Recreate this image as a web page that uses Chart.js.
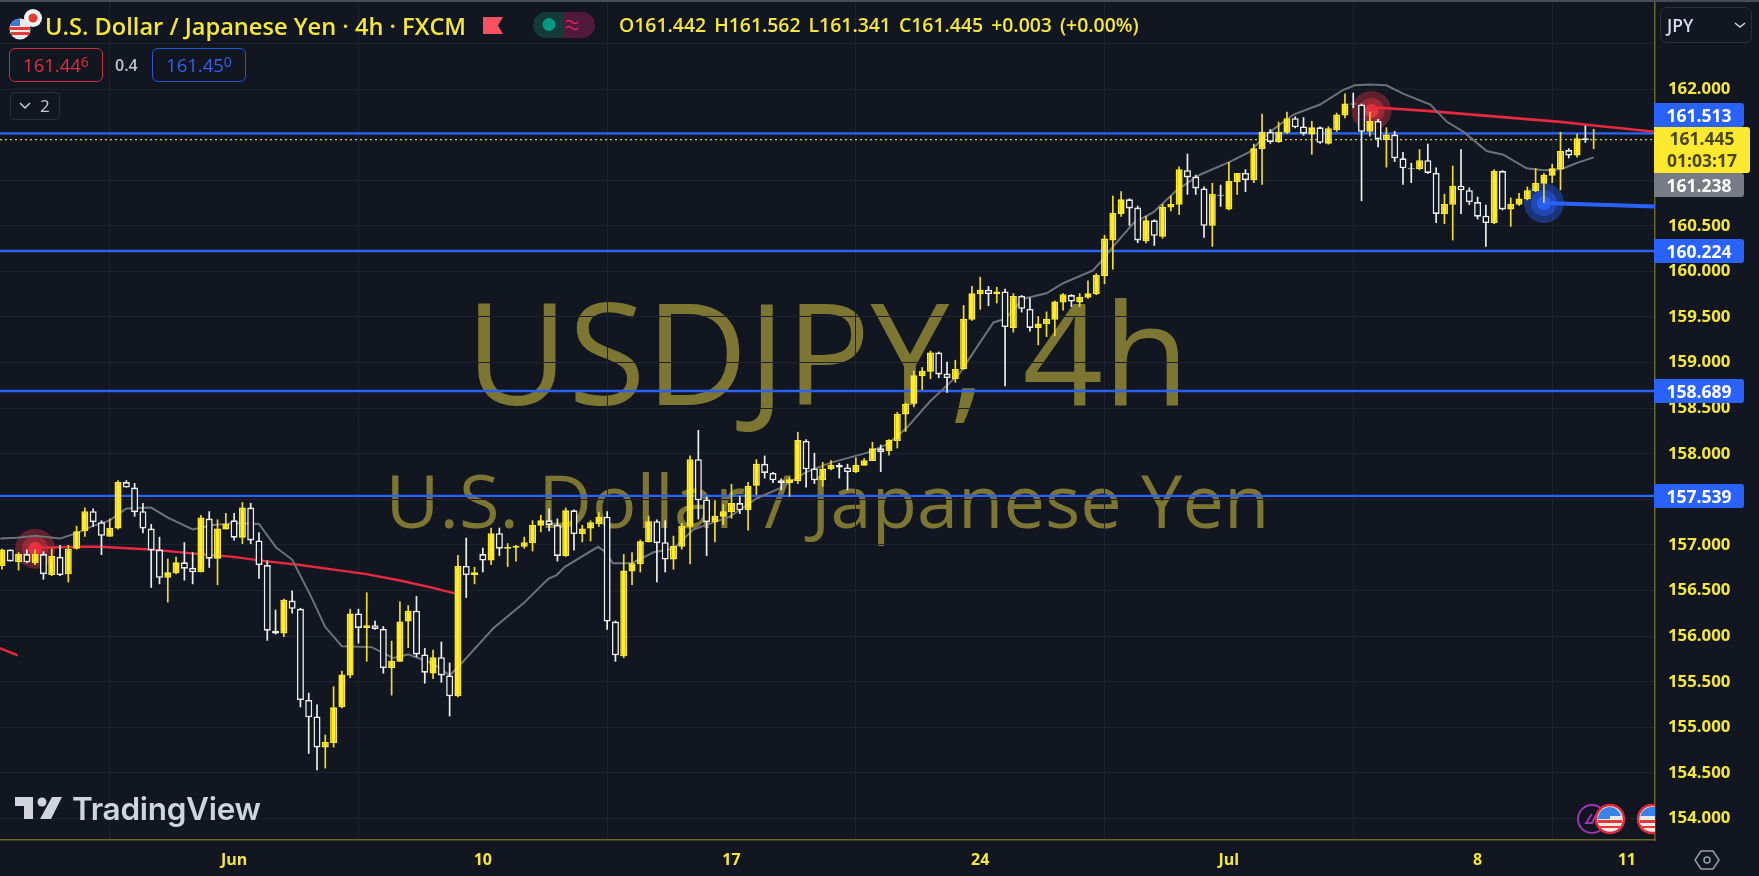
<!DOCTYPE html>
<html>
<head>
<meta charset="utf-8">
<title>USDJPY 4h</title>
<script src="https://cdn.jsdelivr.net/npm/chart.js@4/dist/chart.umd.min.js"></script>
<style>
html, body { margin: 0; padding: 0; width: 1759px; height: 876px; overflow: hidden; background: #121621; }
body { font-family: "Open Sans", sans-serif; position: relative; }
#topline { position: absolute; left: 0; top: 0; width: 1759px; height: 2px; background: #4a4d57; z-index: 3; }
.wm { position: absolute; left: 0; width: 1655px; text-align: center; color: #7d7632; white-space: nowrap; font-family: "Open Sans", sans-serif; font-weight: 500; z-index: 0; }
#wm1 { top: 255px; font-size: 141px; line-height: 190px; }
#wm2 { top: 450px; font-size: 74px; line-height: 100px; }
#c { position: absolute; left: 0; top: 0; z-index: 1; }
.ov { position: absolute; z-index: 2; white-space: nowrap; }
.title { left: 45px; top: 11px; font-size: 23.6px; font-weight: 600; color: #f6e73c; line-height: 30px; }
.ohlc { left: 619px; top: 12px; font-size: 19.4px; font-weight: 600; color: #f6e73c; line-height: 26px; word-spacing: 3px; }
.box { top: 48px; width: 92px; height: 32px; border: 1.5px solid; border-radius: 6px; text-align: center; line-height: 32px; font-size: 18.5px; }
.box sup { font-size: 14px; line-height: 0; vertical-align: 5px; }
.tag { left: 1654px; height: 24px; line-height: 24px; width: 90px; text-align: center; color: #fff; font-size: 17.5px; font-weight: 700; border-radius: 0 3px 3px 0; }
</style>
</head>
<body>
<div id="topline"></div>
<div class="wm" id="wm1">USDJPY, 4h</div>
<div class="wm" id="wm2">U.S. Dollar / Japanese Yen</div>
<canvas id="c" width="1759" height="876"></canvas>

<!-- header -->
<svg class="ov" style="left:8px;top:8px" width="34" height="36" viewBox="0 0 34 36">
  <circle cx="25" cy="10" r="9" fill="#f2f2f2"/><circle cx="25" cy="10" r="4.5" fill="#e53935"/>
  <circle cx="12" cy="21" r="10.5" fill="#e8e8e8"/>
  <path d="M2 19h20v3H2zM3 24h18v3H3z" fill="#e53935"/>
  <path d="M2.5 17a10.5 10.5 0 0 1 9.5-6.5V18H2z" fill="#3b78d8"/>
</svg>
<div class="ov title">U.S. Dollar / Japanese Yen · 4h · FXCM</div>
<svg class="ov" style="left:483px;top:17px" width="21" height="17"><path d="M0 0H20L15 8.500L20 17H0Z" fill="#f7525f"/></svg>
<svg class="ov" style="left:533px;top:12px" width="62" height="26">
  <path d="M13 0H31V26H13A13 13 0 0 1 13 0Z" fill="#143a39"/>
  <path d="M31 0H49A13 13 0 0 1 49 26H31Z" fill="#4f1a3b"/>
  <circle cx="16" cy="12.500" r="6.500" fill="#089981"/>
  <path d="M33 10q3-3 6 0t6 0M33 16q3-3 6 0t6 0" fill="none" stroke="#e91e63" stroke-width="1.600"/>
</svg>
<div class="ov ohlc">O161.442 H161.562 L161.341 C161.445 +0.003 (+0.00%)</div>
<div class="ov box" style="left:9px;color:#e0303f;border-color:#c62f3e">161.44<sup>6</sup></div>
<div class="ov" style="left:115px;top:50px;font-size:16px;font-weight:600;color:#c4c6ce;line-height:30px">0.4</div>
<div class="ov box" style="left:152px;color:#2d63f0;border-color:#2456d6">161.45<sup>0</sup></div>
<svg class="ov" style="left:10px;top:92px" width="50" height="29">
  <rect x="0.500" y="0.500" width="49" height="27" rx="4" fill="#121621" stroke="#2a2e39"/>
  <path d="M10 11l5 5 5-5" fill="none" stroke="#c8cad2" stroke-width="1.500"/>
  <text x="30" y="20" font-family="Open Sans" font-size="17" fill="#c8cad2">2</text>
</svg>

<!-- JPY button -->
<div class="ov" style="left:1660px;top:7px;width:90px;height:34px;border:1.5px solid #2c303b;border-radius:7px"></div>
<div class="ov" style="left:1667px;top:11px;font-size:17.5px;font-weight:600;color:#d5dcf0;line-height:28px">JPY</div>
<svg class="ov" style="left:1734px;top:22px" width="12" height="8"><path d="M1 1l5 4 5-4" fill="none" stroke="#d1d4dc" stroke-width="1.600"/></svg>

<!-- logo -->
<svg class="ov" style="left:15px;top:796px" width="48" height="24">
  <path d="M0 1H18V23H9V10H0Z" fill="#d1d4dc"/>
  <circle cx="27" cy="6" r="4.500" fill="#d1d4dc"/>
  <path d="M37 1H47L36 23H25Z" fill="#d1d4dc"/>
</svg>
<div class="ov" style="left:72px;top:788px;font-family:Inter,sans-serif;font-size:31.5px;font-weight:600;color:#d1d4dc;line-height:42px;letter-spacing:-0.3px">TradingView</div>

<!-- event icons -->
<svg class="ov" style="left:1570px;top:798px" width="85" height="42">
  <circle cx="22" cy="21" r="14" fill="#121621" stroke="#9c36b5" stroke-width="2"/>
  <path d="M22 16l-6 9h6l4-8" fill="none" stroke="#9c36b5" stroke-width="2"/>
  <g id="flagA"><circle cx="40" cy="21" r="14" fill="#e9e9e9" stroke="#e0293c" stroke-width="2.500"/>
    <path d="M28 22h24v3H28zM29 28h22v2H29z" fill="#e53935"/>
    <path d="M28 21a12 12 0 0 1 12-12v12z" fill="#3b82e6"/><path d="M40 9a12 12 0 0 1 11 9H40z" fill="#3b82e6"/></g>
  <circle cx="82" cy="21" r="14" fill="#e9e9e9" stroke="#e0293c" stroke-width="2.500"/>
  <path d="M70 22h16v3H70zM71 28h14v2H71z" fill="#e53935"/>
  <path d="M70 21a12 12 0 0 1 12-12h3v9H70z" fill="#3b82e6"/>
</svg>
<!-- settings hexagon -->
<svg class="ov" style="left:1694px;top:849px" width="26" height="22">
  <path d="M7 2H19L25 11L19 20H7L1 11Z" fill="none" stroke="#9a9da6" stroke-width="1.500"/>
  <circle cx="13" cy="11" r="3" fill="none" stroke="#9a9da6" stroke-width="1.500"/>
</svg>

<script>
// candles, oldest first
const opens = [156.77,156.95,156.81,156.90,156.80,156.90,156.67,156.87,156.68,156.96,
157.15,157.37,157.25,157.09,157.18,157.69,157.63,157.37,157.18,156.95,
156.64,156.69,156.81,156.75,156.70,157.29,156.85,157.17,157.27,157.08,
157.41,157.05,156.78,156.06,156.03,156.39,156.30,155.30,155.12,154.78,
154.83,155.22,155.57,156.25,156.09,156.12,156.08,155.65,155.72,156.16,
156.28,155.80,155.59,155.77,155.57,155.34,156.77,156.67,156.90,156.83,
157.13,156.96,156.97,156.98,157.02,157.21,157.27,157.22,156.88,157.38,
157.12,157.18,157.23,157.31,156.16,155.78,156.71,156.79,157.03,157.26,
157.03,156.84,156.98,157.20,157.94,157.50,157.25,157.31,157.36,157.46,
157.38,157.65,157.89,157.79,157.71,157.68,157.70,158.14,157.84,157.71,
157.83,157.88,157.85,157.80,157.87,157.92,158.06,158.03,158.14,158.43,
158.55,158.85,158.90,159.11,158.88,158.82,158.93,159.47,159.75,159.80,
159.75,159.78,159.38,159.73,159.59,159.38,159.42,159.47,159.66,159.74,
159.66,159.71,159.75,159.95,160.34,160.63,160.79,160.70,160.33,160.56,
160.38,160.70,160.73,161.11,161.04,160.91,160.50,160.84,160.68,160.98,
161.08,161.00,161.34,161.53,161.42,161.52,161.68,161.59,161.50,161.58,
161.40,161.55,161.71,161.84,161.83,161.53,161.65,161.44,161.50,161.24,
161.13,161.12,161.22,161.08,160.63,160.73,160.94,160.89,160.76,160.61,
160.53,161.10,160.68,160.73,160.79,160.88,160.96,161.05,161.12,161.33,
161.27,161.46,161.442];

const highs = [156.96,156.95,156.92,156.95,156.95,156.93,156.96,157.00,157.00,157.21,
157.41,157.40,157.27,157.29,157.71,157.71,157.68,157.46,157.23,157.09,
156.85,156.87,157.03,156.92,157.33,157.37,157.28,157.35,157.35,157.47,
157.46,157.14,156.83,156.29,156.41,156.50,156.31,155.38,155.25,154.92,
155.45,155.62,156.30,156.30,156.48,156.17,156.11,155.95,156.38,156.34,
156.44,155.87,155.85,155.94,155.71,156.89,157.08,156.76,156.97,157.19,
157.19,157.02,157.00,157.09,157.27,157.33,157.40,157.29,157.41,157.39,
157.22,157.27,157.36,157.37,156.17,156.90,156.92,157.06,157.32,157.28,
157.27,157.10,157.24,157.98,158.26,157.53,157.49,157.45,157.67,157.54,
157.69,157.94,157.98,157.80,157.73,157.75,158.24,158.16,158.01,157.91,
157.93,157.90,157.89,157.96,157.95,158.13,158.10,158.16,158.46,158.56,
158.91,158.95,159.13,159.12,159.01,159.03,159.63,159.84,159.94,159.84,
159.83,159.81,159.76,159.74,159.71,159.51,159.56,159.68,159.76,159.75,
159.76,159.90,159.98,160.40,160.83,160.88,160.80,160.72,160.61,160.57,
160.74,160.83,161.15,161.29,161.06,160.93,160.97,160.95,161.20,161.08,
161.12,161.40,161.73,161.56,161.64,161.75,161.70,161.69,161.65,161.59,
161.59,161.74,161.95,161.96,161.84,161.75,161.67,161.58,161.54,161.31,
161.19,161.34,161.40,161.14,160.85,161.16,161.34,160.92,160.82,160.73,
161.12,161.11,160.81,160.86,160.93,161.13,161.08,161.18,161.53,161.35,
161.51,161.60,161.562];

const lows = [156.73,156.82,156.72,156.80,156.78,156.62,156.66,156.66,156.59,156.95,
157.09,157.20,156.89,157.09,157.17,157.63,157.31,157.13,156.53,156.57,
156.37,156.68,156.61,156.57,156.70,156.75,156.56,157.17,157.05,157.01,
157.01,156.63,155.95,156.02,155.99,156.25,155.22,154.71,154.53,154.55,
154.78,155.21,155.54,155.92,155.72,156.07,155.59,155.35,155.72,155.87,
155.77,155.48,155.53,155.49,155.12,155.33,156.42,156.57,156.70,156.78,
156.88,156.76,156.82,156.96,156.93,157.14,157.15,156.82,156.87,156.94,
157.03,157.04,157.20,156.07,155.72,155.76,156.56,156.70,157.03,156.59,
156.70,156.73,156.95,156.79,157.28,156.88,157.03,157.22,157.29,157.34,
157.16,157.55,157.73,157.68,157.60,157.53,157.67,157.63,157.67,157.64,
157.82,157.73,157.60,157.79,157.87,157.92,157.80,157.98,158.06,158.24,
158.51,158.70,158.82,158.83,158.67,158.78,158.92,159.46,159.58,159.62,
159.65,158.74,159.33,159.55,159.34,159.19,159.28,159.29,159.57,159.61,
159.61,159.70,159.74,159.86,160.02,160.60,160.50,160.31,160.31,160.28,
160.36,160.66,160.62,160.84,160.84,160.37,160.27,160.71,160.67,160.84,
160.87,160.97,160.95,161.40,161.41,161.51,161.57,161.49,161.28,161.40,
161.39,161.53,161.68,161.79,160.77,161.48,161.36,161.14,161.20,160.95,
160.97,161.11,161.07,160.53,160.52,160.34,160.63,160.73,160.57,160.27,
160.52,160.67,160.49,160.72,160.78,160.87,160.75,160.97,160.89,161.24,
161.25,161.41,161.341];

const closes = [156.95,156.82,156.90,156.81,156.90,156.68,156.88,156.67,156.96,157.15,
157.37,157.25,157.10,157.19,157.69,157.63,157.36,157.18,156.94,156.64,
156.70,156.81,156.74,156.70,157.30,156.85,157.18,157.23,157.08,157.41,
157.05,156.78,156.06,156.03,156.40,156.30,155.30,155.11,154.78,154.84,
155.22,155.58,156.25,156.09,156.12,156.08,155.65,155.73,156.16,156.28,
155.80,155.60,155.77,155.57,155.34,156.77,156.67,156.70,156.83,157.13,
156.96,156.98,156.99,157.03,157.22,157.27,157.22,156.88,157.38,157.12,
157.18,157.25,157.31,156.16,155.79,156.72,156.80,157.04,157.26,157.02,
156.84,156.99,157.21,157.94,157.49,157.25,157.32,157.37,157.46,157.38,
157.65,157.89,157.79,157.71,157.68,157.72,158.15,157.83,157.71,157.84,
157.88,157.85,157.80,157.88,157.93,158.06,158.02,158.15,158.44,158.55,
158.86,158.91,159.11,158.87,158.83,158.93,159.48,159.76,159.80,159.75,
159.78,159.39,159.73,159.59,159.38,159.43,159.48,159.67,159.75,159.67,
159.72,159.76,159.96,160.36,160.64,160.79,160.69,160.34,160.56,160.39,
160.71,160.74,161.12,161.03,160.91,160.50,160.85,160.83,160.99,161.08,
161.00,161.35,161.53,161.42,161.53,161.68,161.58,161.51,161.58,161.41,
161.57,161.72,161.84,161.83,161.53,161.65,161.45,161.50,161.24,161.13,
161.12,161.22,161.08,160.63,160.74,160.94,160.89,160.76,160.60,160.53,
161.10,160.68,160.74,160.80,160.89,160.97,161.06,161.13,161.32,161.27,
161.46,161.44,161.445];

// grey moving average, bar index and price
const smaBars = [-0.2,1.8,4,7,9,11,13,15,18,20,23,25.5,28,31,33.1,35,37.2,39,41,44.6,47.2,49,52,54,55.6,58,59.3,62.9,65.9,66.9,67.9,71.9,72.7,73.7,76,78.6,81,83.4,85,87.8,91,93.8,97,99.9,104.3,106.7,109.1,111.9,114,115.5,117.6,119.6,121,123.2,126,128,131.6,132.6,134,136.5,138.9,141.7,144.5,148.1,150.5,152.1,153.4,155.8,159,161.8,163.2,165,167,169,172.3,174.3,176.3,179.1,181.1,183.9,186,188.1,190,192];
const smaPrices = [157.07,157.08,157.10,157.07,157.13,157.21,157.27,157.40,157.41,157.30,157.17,157.22,157.24,157.23,156.97,156.84,156.45,156.10,155.89,155.88,155.76,155.80,155.70,155.57,155.72,155.96,156.09,156.36,156.63,156.67,156.76,156.98,156.93,156.80,156.80,156.92,156.96,157.17,157.22,157.31,157.51,157.62,157.80,157.90,158.01,158.10,158.28,158.57,158.75,158.88,159.17,159.44,159.48,159.70,159.76,159.87,160.01,160.11,160.27,160.53,160.65,160.89,161.06,161.20,161.31,161.46,161.56,161.72,161.83,161.99,162.04,162.05,162.04,161.95,161.83,161.64,161.53,161.32,161.28,161.13,161.11,161.12,161.19,161.25];

// red and blue averages that start at the glowing markers
const redOldBars = [-0.3,1.9];
const redOldPrices = [155.87,155.79];
const redBars = [4,9.8,11.8,17.9,23.9,27.9,32,36,40,44,48,52,54.6];
const redPrices = [156.97,156.98,156.98,156.95,156.90,156.87,156.82,156.78,156.73,156.68,156.61,156.53,156.47];
const red2Bars = [165.2,171.9,179.9,188,192,199.5];
const red2Prices = [161.80,161.76,161.70,161.64,161.60,161.53];
const blueBars = [186,199.5];
const bluePrices = [160.75,160.71];

const redMarkBars = [4,165.2];
const redMarkPrices = [156.96,161.76];
const blueMarkBars = [186];
const blueMarkPrices = [160.75];

const levels = [161.513,160.224,158.689,157.539];
const lastPrice = 161.445;

const dateBars = [28,58,88,118,148,178,196];
const dateLabels = ['Jun','10','17','24','Jul','8','11'];
const priceTicks = [154,154.5,155,155.5,156,156.5,157,157.5,158,158.5,159,159.5,160,160.5,161,161.5,162,162.5];

const barMin = -0.24, barMax = 199.4;
const candleWick = [], candleBody = [], wickColors = [], bodyFill = [], bodyEdge = [];
const YELLOW = '#ffeb2e', WHITE = '#eceded', BG = '#121621';

opens.forEach((open, i) => {
    let up = closes[i] >= open;
    candleWick.push({x: i, y: [lows[i], highs[i]]});
    candleBody.push({x: i, y: [open, closes[i]]});
    wickColors.push(up ? '#eddb2d' : WHITE);
    bodyFill.push(up ? YELLOW : BG);
    bodyEdge.push(up ? YELLOW : WHITE);
});

function pairs(xs, ys) {
    return xs.map((x, i) => ({x: x, y: ys[i]}));
}

function lineSet(xs, ys, color, width, order, extra) {
    return Object.assign({
        type: 'line', data: pairs(xs, ys), borderColor: color, borderWidth: width,
        pointRadius: 0, tension: 0, fill: false, order: order
    }, extra || {});
}

function glowSet(xs, ys, color, radius, order) {
    return {
        type: 'line', data: pairs(xs, ys), showLine: false, pointRadius: radius,
        pointBackgroundColor: color, pointBorderWidth: 0, order: order
    };
}

const datasets = [
    {type: 'bar', data: candleBody, backgroundColor: bodyFill, borderColor: bodyEdge, borderWidth: 1.6,
     borderSkipped: false, barThickness: 7, grouped: false, inflateAmount: 0, order: 1},
    {type: 'bar', data: candleWick, backgroundColor: wickColors, borderWidth: 0,
     barThickness: 1.7, grouped: false, inflateAmount: 0, order: 2},
    lineSet(smaBars, smaPrices, '#6f717a', 2, 5),
    lineSet(redOldBars, redOldPrices, '#e8293f', 2.4, 6),
    lineSet(redBars, redPrices, '#e8293f', 2.4, 6),
    lineSet(red2Bars, red2Prices, '#e8293f', 2.6, 6),
    lineSet(blueBars, bluePrices, '#2962ff', 4, 6),
    glowSet(redMarkBars, redMarkPrices, 'rgba(242,54,69,0.35)', 20, 7),
    glowSet(redMarkBars, redMarkPrices, 'rgba(242,54,69,0.40)', 13, 7),
    glowSet(redMarkBars, redMarkPrices, 'rgba(255,50,70,0.80)', 7, 7),
    glowSet(blueMarkBars, blueMarkPrices, 'rgba(41,98,255,0.40)', 20, 7),
    glowSet(blueMarkBars, blueMarkPrices, 'rgba(41,98,255,0.45)', 13, 7),
    glowSet(blueMarkBars, blueMarkPrices, 'rgba(41,98,255,0.85)', 7, 7),
    lineSet([barMin, barMax], [lastPrice, lastPrice], '#d8cb38', 1.2, 8, {borderDash: [2, 3]})
];
levels.forEach(level => {
    datasets.push(lineSet([barMin, barMax], [level, level], '#2962ff', 2.4, 8));
});

const chart = new Chart(document.getElementById('c'), {
    data: {datasets: datasets},
    options: {
        responsive: false,
        animation: false,
        layout: {padding: 0, autoPadding: false},
        plugins: {legend: {display: false}, tooltip: {enabled: false}},
        scales: {
            x: {
                type: 'linear', min: barMin, max: barMax, offset: false,
                afterBuildTicks: scale => { scale.ticks = dateBars.map(v => ({value: v})); },
                afterFit: scale => { scale.height = 36; scale.paddingLeft = 0; scale.paddingRight = 0; },
                grid: {color: '#1e2230', drawTicks: false},
                border: {color: '#6a652c', width: 1.5},
                ticks: {
                    autoSkip: false, maxRotation: 0, padding: 11, color: '#f6e73c',
                    font: {family: 'Open Sans', size: 16, weight: '700'},
                    callback: value => dateLabels[dateBars.indexOf(value)]
                }
            },
            y: {
                type: 'linear', position: 'right', min: 153.765, max: 162.976,
                afterBuildTicks: scale => { scale.ticks = priceTicks.map(v => ({value: v})); },
                afterFit: scale => { scale.width = 104; scale.paddingTop = 0; scale.paddingBottom = 0; },
                grid: {color: '#1e2230', drawTicks: false},
                border: {color: '#6a652c', width: 1.5},
                ticks: {
                    padding: 13, color: '#f6e73c', autoSkip: false,
                    font: {family: 'Open Sans', size: 16.8, weight: '700'},
                    callback: value => value > 162.4 ? '' : value.toFixed(3)
                }
            }
        }
    }
});

// price tags over the axis
function addTag(text, y, bg) {
    let d = document.createElement('div');
    d.className = 'ov tag';
    d.textContent = text;
    d.style.top = (y - 12) + 'px';
    d.style.background = bg;
    document.body.appendChild(d);
    return d;
}
const yScale = chart.scales.y;
addTag('161.513', 115, '#2962ff');
addTag('160.224', yScale.getPixelForValue(160.224), '#2962ff');
addTag('158.689', yScale.getPixelForValue(158.689), '#2962ff');
addTag('157.539', yScale.getPixelForValue(157.539), '#2962ff');
addTag('161.238', 185, '#787b86');
let lastTag = addTag('161.445', 150, '#fde92f');
lastTag.style.top = '127px';
lastTag.style.height = '46px';
lastTag.style.width = '96px';
lastTag.style.color = '#4a4720';
lastTag.style.lineHeight = '22px';
lastTag.innerHTML = '161.445<br>01:03:17';
</script>
</body>
</html>
